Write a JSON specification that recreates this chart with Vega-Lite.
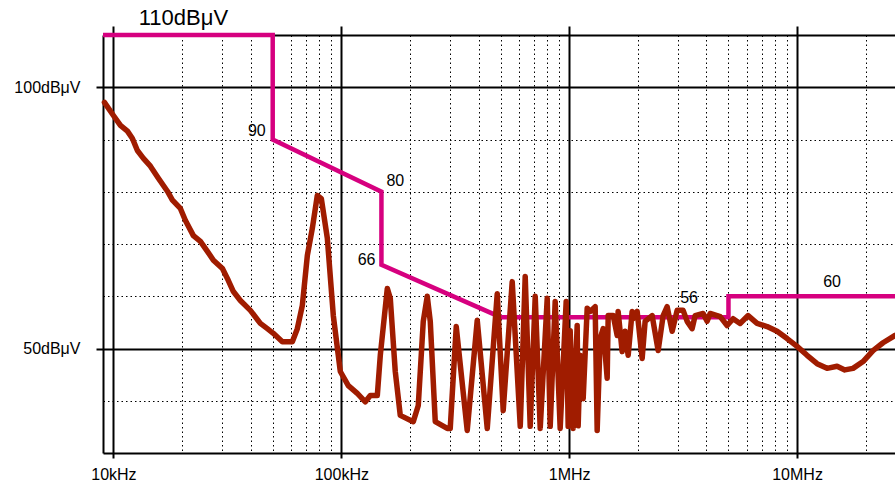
{
  "$schema": "https://vega.github.io/schema/vega-lite/v6.json",
  "width": 792,
  "height": 418,
  "autosize": "none",
  "padding": {"left": 103, "top": 35, "right": 0, "bottom": 32},
  "background": "white",
  "config": {"view": {"stroke": null}, "font": "Liberation Sans", "text": {"font": "Liberation Sans", "color": "#000", "baseline": "middle", "fontSize": 16}},
  "datasets": {
    "limit": [
      {"i": 0, "f": 9000, "v": 110},
      {"i": 1, "f": 50000, "v": 110},
      {"i": 2, "f": 50000, "v": 90},
      {"i": 3, "f": 150000, "v": 80},
      {"i": 4, "f": 150000, "v": 66},
      {"i": 5, "f": 500000, "v": 56},
      {"i": 6, "f": 5000000, "v": 56},
      {"i": 7, "f": 5000000, "v": 60},
      {"i": 8, "f": 30000000, "v": 60}
    ],
    "labels": [
      {"f": 50000, "v": 90, "t": "90"},
      {"f": 150000, "v": 80, "t": "80"},
      {"f": 150000, "v": 66, "t": "66"},
      {"f": 3357000, "v": 56, "t": "56"},
      {"f": 14240000, "v": 60, "t": "60"},
      {"f": 20280, "v": 110, "t": "110dBμV"}
    ],
    "meas": [
      {"f": 9130, "v": 97.1},
      {"f": 10000, "v": 94.6},
      {"f": 10733, "v": 92.7},
      {"f": 11520, "v": 91.6},
      {"f": 12115, "v": 90.2},
      {"f": 12740, "v": 87.9},
      {"f": 13540, "v": 86.4},
      {"f": 14533, "v": 84.9},
      {"f": 15750, "v": 82.6},
      {"f": 17250, "v": 80.1},
      {"f": 18150, "v": 78.4},
      {"f": 19670, "v": 76.8},
      {"f": 20700, "v": 74.5},
      {"f": 22430, "v": 71.6},
      {"f": 24080, "v": 70.5},
      {"f": 25840, "v": 68.6},
      {"f": 27460, "v": 66.9},
      {"f": 30080, "v": 65.3},
      {"f": 31940, "v": 63.0},
      {"f": 33600, "v": 60.9},
      {"f": 36060, "v": 59.2},
      {"f": 39900, "v": 57.3},
      {"f": 44130, "v": 54.8},
      {"f": 47350, "v": 53.8},
      {"f": 50310, "v": 52.9},
      {"f": 55110, "v": 51.3},
      {"f": 60970, "v": 51.3},
      {"f": 64120, "v": 53.8},
      {"f": 67430, "v": 58.2},
      {"f": 70950, "v": 67.8},
      {"f": 74620, "v": 73.0},
      {"f": 78470, "v": 79.3},
      {"f": 81720, "v": 78.7},
      {"f": 86830, "v": 71.1},
      {"f": 92240, "v": 56.3},
      {"f": 97000, "v": 48.7},
      {"f": 98990, "v": 45.6},
      {"f": 107330, "v": 42.9},
      {"f": 117540, "v": 41.4},
      {"f": 127460, "v": 39.8},
      {"f": 134060, "v": 41.0},
      {"f": 143870, "v": 41.0},
      {"f": 148300, "v": 48.7},
      {"f": 159150, "v": 61.5},
      {"f": 164030, "v": 59.6},
      {"f": 172500, "v": 45.6},
      {"f": 181460, "v": 37.2},
      {"f": 206950, "v": 36.0},
      {"f": 217650, "v": 39.1},
      {"f": 228900, "v": 55.2},
      {"f": 238360, "v": 60.0},
      {"f": 245690, "v": 55.2},
      {"f": 258400, "v": 36.0},
      {"f": 291640, "v": 34.7},
      {"f": 300600, "v": 34.7},
      {"f": 319400, "v": 54.2},
      {"f": 356900, "v": 34.3},
      {"f": 394900, "v": 55.4},
      {"f": 436900, "v": 34.7},
      {"f": 483300, "v": 60.5},
      {"f": 513400, "v": 38.1},
      {"f": 562300, "v": 62.8},
      {"f": 609900, "v": 35.1},
      {"f": 641200, "v": 63.8},
      {"f": 674500, "v": 35.1},
      {"f": 709500, "v": 60.0},
      {"f": 746200, "v": 34.7},
      {"f": 800900, "v": 59.6},
      {"f": 825500, "v": 35.1},
      {"f": 868100, "v": 59.0},
      {"f": 913000, "v": 34.7},
      {"f": 970000, "v": 59.0},
      {"f": 989900, "v": 35.1},
      {"f": 1010200, "v": 53.4},
      {"f": 1041100, "v": 34.7},
      {"f": 1084100, "v": 54.4},
      {"f": 1095000, "v": 35.2},
      {"f": 1117400, "v": 48.7},
      {"f": 1151800, "v": 40.4},
      {"f": 1199300, "v": 57.7},
      {"f": 1236300, "v": 57.1},
      {"f": 1300200, "v": 58.0},
      {"f": 1326800, "v": 34.3},
      {"f": 1367700, "v": 51.9},
      {"f": 1410000, "v": 53.8},
      {"f": 1468000, "v": 44.3},
      {"f": 1483000, "v": 56.3},
      {"f": 1560000, "v": 56.3},
      {"f": 1624000, "v": 52.5},
      {"f": 1640000, "v": 57.1},
      {"f": 1708000, "v": 49.4},
      {"f": 1760000, "v": 53.3},
      {"f": 1815000, "v": 48.7},
      {"f": 1889000, "v": 57.1},
      {"f": 1908000, "v": 55.7},
      {"f": 1987000, "v": 57.1},
      {"f": 2090000, "v": 48.1},
      {"f": 2154000, "v": 55.2},
      {"f": 2312000, "v": 56.3},
      {"f": 2457000, "v": 49.6},
      {"f": 2584000, "v": 56.3},
      {"f": 2691000, "v": 58.0},
      {"f": 2830000, "v": 53.3},
      {"f": 2977000, "v": 57.3},
      {"f": 3162000, "v": 57.3},
      {"f": 3293000, "v": 55.2},
      {"f": 3463000, "v": 53.8},
      {"f": 3570000, "v": 56.3},
      {"f": 3870000, "v": 56.7},
      {"f": 4030000, "v": 55.2},
      {"f": 4155000, "v": 56.7},
      {"f": 4459000, "v": 56.3},
      {"f": 4596000, "v": 56.1},
      {"f": 4932000, "v": 54.4},
      {"f": 5240000, "v": 55.7},
      {"f": 5623000, "v": 54.8},
      {"f": 6098000, "v": 56.3},
      {"f": 6677000, "v": 54.8},
      {"f": 7387000, "v": 54.2},
      {"f": 8171000, "v": 53.3},
      {"f": 9040000, "v": 51.9},
      {"f": 10000000, "v": 50.4},
      {"f": 11064000, "v": 48.7},
      {"f": 12240000, "v": 47.1},
      {"f": 13540000, "v": 46.2},
      {"f": 14980000, "v": 46.6},
      {"f": 16200000, "v": 45.9},
      {"f": 17600000, "v": 46.2},
      {"f": 19480000, "v": 47.5},
      {"f": 21540000, "v": 49.6},
      {"f": 23840000, "v": 51.1},
      {"f": 26910000, "v": 52.5}
    ]
  },
  "layer": [
    {
      "data": {"name": "limit"},
      "mark": {"type": "line", "color": "#d6007f", "strokeWidth": 4.5, "clip": false, "strokeJoin": "miter"},
      "encoding": {
        "x": {
          "field": "f", "type": "quantitative",
          "scale": {"type": "log", "domain": [9000, 26900000], "nice": false},
          "axis": {
            "orient": "bottom", "title": null, "domain": false,
            "values": [9000, 10000, 20000, 30000, 40000, 50000, 60000, 70000, 80000, 90000, 100000, 200000, 300000, 400000, 500000, 600000, 700000, 800000, 900000, 1000000, 2000000, 3000000, 4000000, 5000000, 6000000, 7000000, 8000000, 9000000, 10000000, 20000000],
            "grid": true, "gridColor": "#000",
            "gridDash": {"condition": {"test": "indexof([9000,10000,100000,1000000,10000000], datum.value) >= 0", "value": []}, "value": [1.5, 3]},
            "gridWidth": {"condition": {"test": "indexof([9000,10000,100000,1000000,10000000], datum.value) >= 0", "value": 2}, "value": 1},
            "gridOpacity": 1,
            "ticks": true, "tickColor": "#000", "tickWidth": 2, "tickSize": 5,
            "tickOpacity": {"condition": {"test": "indexof([10000,100000,1000000,10000000], datum.value) >= 0", "value": 1}, "value": 0},
            "labelExpr": "datum.value==10000?'10kHz':datum.value==100000?'100kHz':datum.value==1000000?'1MHz':datum.value==10000000?'10MHz':''",
            "labelFontSize": 16, "labelColor": "#000", "labelPadding": 8, "labelOverlap": false, "labelFlush": false, "labelFont": "Liberation Sans"
          }
        },
        "y": {
          "field": "v", "type": "quantitative",
          "scale": {"domain": [30, 110], "nice": false, "zero": false},
          "axis": {
            "title": null, "domain": false,
            "values": [30, 40, 50, 60, 70, 80, 90, 100, 110],
            "grid": true, "gridColor": "#000",
            "gridDash": {"condition": {"test": "indexof([30,50,100,110], datum.value) >= 0", "value": []}, "value": [1.5, 3]},
            "gridWidth": {"condition": {"test": "indexof([30,50,100,110], datum.value) >= 0", "value": 2}, "value": 1},
            "gridOpacity": 1,
            "ticks": true, "tickColor": "#000", "tickWidth": 2, "tickSize": 7,
            "tickOpacity": {"condition": {"test": "datum.value == 50 || datum.value == 100", "value": 1}, "value": 0},
            "labelExpr": "datum.value==100?'100dBμV':datum.value==50?'50dBμV':''",
            "labelFontSize": 16, "labelColor": "#000", "labelPadding": 16, "labelOverlap": false, "labelFont": "Liberation Sans"
          }
        },
        "order": {"field": "i", "type": "quantitative"}
      }
    },
    {
      "data": {"name": "meas"},
      "mark": {"type": "line", "color": "#a01c00", "strokeWidth": 5.5, "strokeJoin": "round", "strokeCap": "round"},
      "encoding": {
        "x": {
          "field": "f", "type": "quantitative",
          "axis": {
            "orient": "top", "title": null, "domain": false, "grid": false, "labels": false,
            "values": [10000, 100000, 1000000, 10000000],
            "ticks": true, "tickColor": "#000", "tickWidth": 2, "tickSize": 9
          }
        },
        "y": {"field": "v", "type": "quantitative"}
      }
    },
    {
      "data": {"name": "labels"},
      "transform": [{"filter": "datum.t == '90'"}],
      "mark": {"type": "text", "align": "right", "dx": -7, "dy": -9},
      "encoding": {
        "x": {"field": "f", "type": "quantitative", "axis": null},
        "y": {"field": "v", "type": "quantitative"},
        "text": {"field": "t"}
      }
    },
    {
      "data": {"name": "labels"},
      "transform": [{"filter": "datum.t == '80'"}],
      "mark": {"type": "text", "align": "left", "dx": 5, "dy": -11},
      "encoding": {
        "x": {"field": "f", "type": "quantitative", "axis": null},
        "y": {"field": "v", "type": "quantitative"},
        "text": {"field": "t"}
      }
    },
    {
      "data": {"name": "labels"},
      "transform": [{"filter": "datum.t == '66'"}],
      "mark": {"type": "text", "align": "right", "dx": -6, "dy": -5},
      "encoding": {
        "x": {"field": "f", "type": "quantitative", "axis": null},
        "y": {"field": "v", "type": "quantitative"},
        "text": {"field": "t"}
      }
    },
    {
      "data": {"name": "labels"},
      "transform": [{"filter": "datum.t == '56'"}],
      "mark": {"type": "text", "align": "center", "dy": -19},
      "encoding": {
        "x": {"field": "f", "type": "quantitative", "axis": null},
        "y": {"field": "v", "type": "quantitative"},
        "text": {"field": "t"}
      }
    },
    {
      "data": {"name": "labels"},
      "transform": [{"filter": "datum.t == '60'"}],
      "mark": {"type": "text", "align": "center", "dy": -14},
      "encoding": {
        "x": {"field": "f", "type": "quantitative", "axis": null},
        "y": {"field": "v", "type": "quantitative"},
        "text": {"field": "t"}
      }
    },
    {
      "data": {"name": "labels"},
      "transform": [{"filter": "datum.t == '110dBμV'"}],
      "mark": {"type": "text", "align": "center", "dy": -17, "fontSize": 22},
      "encoding": {
        "x": {"field": "f", "type": "quantitative", "axis": null},
        "y": {"field": "v", "type": "quantitative"},
        "text": {"field": "t"}
      }
    }
  ],
  "resolve": {"axis": {"x": "independent"}}
}
